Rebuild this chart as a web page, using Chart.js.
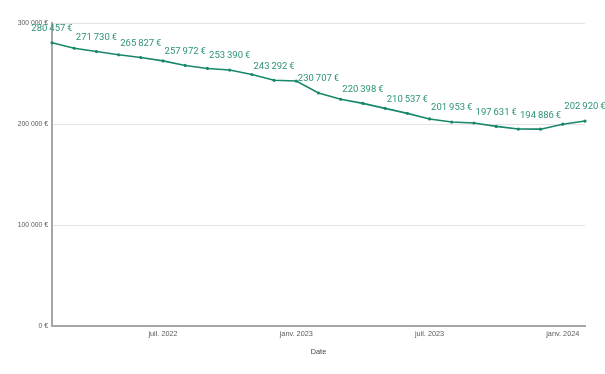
<!DOCTYPE html>
<html>
<head>
<meta charset="utf-8">
<script src="https://cdn.jsdelivr.net/npm/chart.js@4/dist/chart.umd.min.js"></script>
<style>
html,body{margin:0;padding:0;background:#fff;}
#wrap{width:605px;height:374px;position:relative;}
</style>
</head>
<body>
<div id="wrap"><canvas id="c" width="605" height="374"></canvas></div>
<script>
const categories = ['févr. 2022','mars 2022','avr. 2022','mai 2022','juin 2022','juil. 2022','août 2022','sept. 2022','oct. 2022','nov. 2022','déc. 2022','janv. 2023','févr. 2023','mars 2023','avr. 2023','mai 2023','juin 2023','juil. 2023','août 2023','sept. 2023','oct. 2023','nov. 2023','déc. 2023','janv. 2024','févr. 2024'];
const values = [280457, 275000, 271730, 268500, 265827, 262500, 257972, 255000, 253390, 249000, 243292, 242500, 230707, 224500, 220398, 215500, 210537, 205000, 201953, 201000, 197631, 195000, 194886, 199800, 202920];
const labelledIndices = [0, 2, 4, 6, 8, 10, 12, 14, 16, 18, 20, 22, 24];
const xTickLabels = ['juil. 2022', 'janv. 2023', 'juil. 2023', 'janv. 2024'];
const yTicks = [0, 100000, 200000, 300000];

const GREEN = '#17876a';
function fmt(v, sep){ return String(Math.round(v)).replace(/\B(?=(\d{3})+(?!\d))/g, sep) + sep + '€'; }

const labelPlugin = {
  id: 'valueLabels',
  afterDatasetsDraw(chart){
    const ctx = chart.ctx;
    const meta = chart.getDatasetMeta(0);
    ctx.save();
    ctx.font = '9.5px Roboto, "Noto Sans", sans-serif';
    ctx.fillStyle = '#2e937a';
    ctx.textAlign = 'center';
    ctx.textBaseline = 'middle';
    labelledIndices.forEach(i => {
      const p = meta.data[i];
      ctx.fillText(fmt(values[i], '\u2009'), p.x, p.y - 14);
    });
    ctx.restore();
  }
};

new Chart(document.getElementById('c'), {
  type: 'line',
  data: {
    labels: categories,
    datasets: [{
      data: values,
      borderColor: GREEN,
      backgroundColor: GREEN,
      borderWidth: 1.6,
      pointRadius: 1.6,
      pointBorderWidth: 0,
      pointBackgroundColor: GREEN,
      tension: 0,
      fill: false
    }]
  },
  options: {
    responsive: false,
    animation: false,
    devicePixelRatio: 1,
    layout: { padding: { left: 0, right: 20, top: 23, bottom: 14 } },
    plugins: { legend: { display: false }, tooltip: { enabled: false } },
    scales: {
      x: {
        type: 'category',
        offset: false,
        grid: { display: false, drawTicks: false },
        border: { display: true, color: '#a6a6a6', width: 2 },
        ticks: {
          autoSkip: false, maxRotation: 0, minRotation: 0, padding: 4,
          color: '#5a5a5a', font: { family: 'Liberation Sans, Arial, sans-serif', size: 7.3 },
          callback: function(v, i){ const l = categories[i]; return xTickLabels.includes(l) ? l : ''; }
        },
        title: { display: true, text: 'Date', color: '#444', font: { family: 'Liberation Sans, Arial, sans-serif', size: 7.3 }, padding: { top: 4, bottom: 4 } },
        afterFit(s){ s.height = 34; }
      },
      y: {
        min: 0, max: 300000,
        grid: { color: '#e4e4e4', lineWidth: 1, drawTicks: false },
        border: { display: true, color: '#a6a6a6', width: 2 },
        afterBuildTicks(s){ s.ticks = yTicks.map(v => ({ value: v })); },
        ticks: {
          padding: 4, color: '#5a5a5a',
          font: { family: 'Liberation Sans, Arial, sans-serif', size: 6.8 },
          callback: v => fmt(v, ' ')
        },
        afterFit(s){ s.width = 52; }
      }
    }
  },
  plugins: [labelPlugin]
});
</script>
</body>
</html>
